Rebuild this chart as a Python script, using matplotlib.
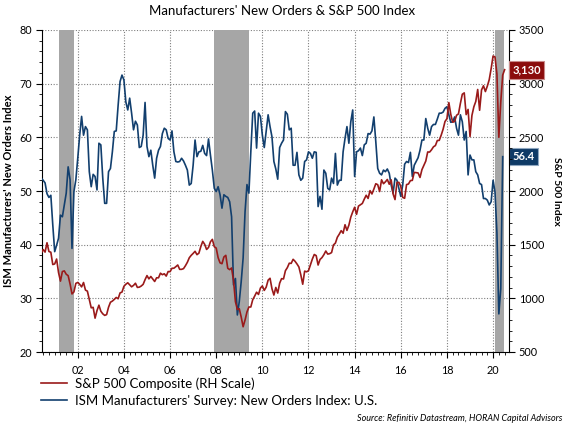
import matplotlib
matplotlib.use("Agg")
import matplotlib.pyplot as plt
import matplotlib.ticker as mticker
import numpy as np

plt.rcParams["font.family"] = ["Lato", "DejaVu Sans"]

# monthly series, first point = Jun 2000
start_year = 2000
start_month = 6

ism_new_orders = [
    52.4, 52.0, 51.5, 49.5, 48.8, 49.2, 43.7, 38.7, 39.9, 41.2, 45.5, 45.2,
    47.4, 49.6, 54.5, 52.1, 39.3, 49.9, 52.1, 56.1, 60.4, 63.9, 60.4, 62.0,
    61.4, 53.6, 50.8, 53.1, 52.7, 50.2, 58.9, 58.6, 52.4, 47.7, 47.7, 53.6,
    54.2, 57.3, 61.1, 61.2, 66.0, 70.4, 71.6, 70.7, 66.6, 65.1, 67.3, 64.5,
    61.4, 63.0, 62.3, 58.1, 58.3, 60.4, 66.5, 58.3, 56.4, 57.6, 54.8, 52.4,
    56.1, 57.6, 58.3, 60.7, 61.7, 61.4, 59.8, 59.5, 61.2, 57.3, 55.5, 55.4,
    55.5, 56.1, 55.6, 54.8, 53.9, 51.1, 51.4, 54.8, 59.5, 56.4, 57.3, 57.4,
    58.5, 57.0, 56.6, 59.7, 56.7, 53.9, 50.5, 49.9, 50.8, 49.3, 46.8, 49.3,
    49.0, 48.8, 48.0, 45.2, 32.5, 33.7, 26.9, 29.4, 33.1, 37.5, 46.1, 51.2,
    49.6, 57.3, 64.5, 64.9, 58.0, 64.5, 63.9, 60.4, 58.1, 61.1, 64.2, 62.0,
    60.1, 55.5, 54.1, 52.2, 58.1, 58.9, 59.5, 64.8, 64.3, 61.4, 61.7, 54.8,
    54.8, 57.2, 53.0, 52.0, 52.4, 55.5, 55.8, 57.3, 57.0, 56.1, 57.3, 57.2,
    47.1, 49.0, 46.6, 53.9, 53.3, 50.5, 50.2, 52.4, 51.4, 57.0, 51.1, 52.0,
    52.0, 57.3, 59.8, 62.0, 58.9, 62.9, 65.1, 52.7, 57.3, 57.5, 58.0, 56.6,
    58.6, 58.9, 60.7, 60.6, 61.2, 63.8, 59.2, 54.2, 53.3, 53.0, 53.9, 53.6,
    54.1, 53.3, 51.1, 49.6, 52.4, 52.0, 50.5, 49.0, 51.1, 55.0, 55.5, 55.3,
    57.2, 52.7, 54.8, 55.5, 56.2, 57.6, 59.5, 59.5, 63.5, 61.7, 60.4, 62.0,
    62.4, 62.4, 63.4, 64.5, 64.5, 64.7, 65.4, 65.7, 64.2, 62.8, 62.9, 63.8,
    61.7, 60.4, 64.2, 62.9, 59.5, 61.1, 53.0, 56.7, 55.8, 55.8, 53.6, 53.0,
    51.4, 51.2, 48.6, 48.6, 48.3, 47.4, 48.0, 52.0, 49.8, 42.2, 27.1, 31.8,
    56.4,
]

sp500 = [
    1420.6, 1454.6, 1430.8, 1517.7, 1436.5, 1429.4, 1315.0, 1320.3, 1366.0, 1239.9, 1160.3, 1249.5,
    1255.8, 1224.4, 1211.2, 1133.6, 1040.9, 1059.8, 1139.5, 1148.1, 1130.2, 1106.7, 1147.4, 1076.9,
    1067.1, 989.8, 911.6, 916.1, 815.3, 885.8, 936.3, 879.8, 855.7, 841.2, 848.2, 916.9,
    963.6, 974.5, 990.3, 1008.0, 996.0, 1050.7, 1058.2, 1111.9, 1131.1, 1144.9, 1126.2, 1107.3,
    1120.7, 1140.8, 1101.7, 1104.2, 1114.6, 1130.2, 1173.8, 1211.9, 1181.3, 1203.6, 1180.6, 1156.9,
    1191.5, 1191.3, 1234.2, 1220.3, 1228.8, 1207.0, 1249.5, 1248.3, 1280.1, 1280.7, 1294.9, 1310.6,
    1270.1, 1270.2, 1276.7, 1303.8, 1335.8, 1377.9, 1400.6, 1418.3, 1438.2, 1406.8, 1420.9, 1482.4,
    1530.6, 1503.4, 1455.3, 1474.0, 1526.8, 1549.4, 1481.1, 1468.4, 1378.6, 1330.6, 1322.7, 1385.6,
    1400.4, 1280.0, 1267.4, 1282.8, 1166.4, 968.8, 896.2, 903.3, 825.9, 735.1, 797.9, 872.8,
    919.1, 919.3, 987.5, 1020.6, 1057.1, 1036.2, 1095.6, 1115.1, 1073.9, 1104.5, 1169.4, 1186.7,
    1089.4, 1030.7, 1101.6, 1049.3, 1141.2, 1183.3, 1180.6, 1257.6, 1286.1, 1327.2, 1325.8, 1363.6,
    1345.2, 1320.6, 1292.3, 1218.9, 1131.4, 1253.3, 1247.0, 1257.6, 1312.4, 1365.7, 1408.5, 1397.9,
    1310.3, 1362.2, 1379.3, 1406.6, 1440.7, 1412.2, 1416.2, 1426.2, 1498.1, 1514.7, 1569.2, 1597.6,
    1630.7, 1606.3, 1685.7, 1633.0, 1681.6, 1756.5, 1805.8, 1848.4, 1782.6, 1859.5, 1872.3, 1883.9,
    1923.6, 1960.2, 1930.7, 2003.4, 1972.3, 2018.1, 2067.6, 2058.9, 1995.0, 2104.5, 2067.9, 2085.5,
    2107.4, 2063.1, 2104.0, 1972.2, 1920.0, 2079.4, 2080.4, 2043.9, 1940.2, 1932.2, 2059.7, 2065.3,
    2096.9, 2098.9, 2173.6, 2170.9, 2168.3, 2126.2, 2199.0, 2238.8, 2278.9, 2363.6, 2362.7, 2384.2,
    2411.8, 2423.4, 2470.3, 2471.7, 2519.4, 2575.3, 2647.6, 2673.6, 2823.8, 2713.8, 2640.9, 2648.1,
    2705.3, 2718.4, 2816.3, 2901.5, 2914.0, 2711.7, 2760.2, 2506.9, 2704.1, 2784.5, 2834.4, 2945.8,
    2752.1, 2941.8, 2980.4, 2926.5, 2976.7, 3037.6, 3141.0, 3257.8, 3248.9, 3090.0, 2500.0, 2830.0,
    3080.0, 3130.0,
]

recessions = [(2001.17, 2001.83), (2007.92, 2009.42), (2020.08, 2020.47)]
year_ticks = list(range(2002, 2021, 2))

red = "#9a1a1a"
blue = "#123f6e"


def month_dates(n):
    return start_year + (start_month - 1 + np.arange(n)) / 12.0


fig = plt.figure(figsize=(5.65, 4.23), dpi=100)
fig.subplots_adjust(left=42 / 565, right=509 / 565, bottom=1 - 352 / 423, top=1 - 30 / 423)
ax = fig.add_subplot(111)
ax2 = ax.twinx()

for r0, r1 in recessions:
    ax.axvspan(r0, r1, color="#a6a6a6", lw=0, zorder=1)

line_ism, = ax.plot(month_dates(len(ism_new_orders)), ism_new_orders, color=blue, lw=1.2, zorder=3)
line_sp, = ax2.plot(month_dates(len(sp500)), sp500, color=red, lw=1.2, zorder=3)

ax.set_xlim(2000.45, 2020.69)
ax.set_ylim(20, 80)
ax2.set_ylim(500, 3500)

ax.xaxis.set_major_locator(mticker.FixedLocator(year_ticks))
ax.xaxis.set_major_formatter(mticker.FuncFormatter(lambda v, p: f"{int(round(v)) % 100:02d}"))
ax.xaxis.set_minor_locator(mticker.FixedLocator(np.arange(2000.5, 2020.7, 0.25)))
ax.yaxis.set_major_locator(mticker.MultipleLocator(10))
ax.yaxis.set_minor_locator(mticker.MultipleLocator(2))
ax2.yaxis.set_major_locator(mticker.MultipleLocator(500))
ax2.yaxis.set_minor_locator(mticker.MultipleLocator(100))

ax.set_axisbelow(True)
ax.grid(True, which="major", color="#7f7f7f", ls=(0, (1, 1.5)), lw=0.8)

for a in (ax, ax2):
    a.spines["top"].set_visible(False)
    a.tick_params(which="major", length=4, width=0.8, labelsize=7.8, pad=3)
    a.tick_params(which="minor", length=2.5, width=0.6)
ax.spines["right"].set_visible(False)
ax2.spines["left"].set_visible(False)
ax2.spines["bottom"].set_visible(False)
ax.tick_params(axis="x", which="both", direction="out")
ax.tick_params(axis="x", which="major", pad=5)

ax.set_ylabel("ISM Manufacturers' New Orders Index", fontsize=8, fontweight="bold", labelpad=4)
ax2.set_ylabel("S&P 500 Index", fontsize=7.5, fontweight="bold", rotation=270, labelpad=12)

ax2.annotate(f"{sp500[-1]:,.0f}", xy=(1, sp500[-1]), xycoords=("axes fraction", "data"),
             xytext=(2.5, 0), textcoords="offset points", ha="left", va="center",
             color="white", fontsize=8, fontweight="bold", zorder=10, annotation_clip=False,
             bbox=dict(boxstyle="square,pad=0.3", fc="#8b0c0c", ec="#c98a8a", lw=0.8))
ax.annotate(f"{ism_new_orders[-1]:.1f}", xy=(1, ism_new_orders[-1]), xycoords=("axes fraction", "data"),
            xytext=(2.5, 0), textcoords="offset points", ha="left", va="center",
            color="white", fontsize=8, fontweight="bold", zorder=10, annotation_clip=False,
            bbox=dict(boxstyle="square,pad=0.3", fc="#0e3a66", ec="#8fa7c0", lw=0.8))

fig.suptitle("Manufacturers' New Orders & S&P 500 Index", x=0.5, y=1 - 5 / 423, va="top", fontsize=9.5)

fig.legend([line_sp, line_ism],
           ["S&P 500 Composite (RH Scale)", "ISM Manufacturers' Survey: New Orders Index: U.S."],
           loc="upper left", bbox_to_anchor=(41 / 565, 1 - 377 / 423), frameon=False,
           fontsize=9.5, handlelength=2.0, handletextpad=0.6, labelspacing=0.4, borderpad=0,
           borderaxespad=0)

fig.text(562 / 565, 1 - 418 / 423, "Source: Refinitiv Datastream, HORAN Capital Advisors",
         ha="right", va="center", fontsize=6.5, style="italic")

fig.savefig("out.png", dpi=100)
